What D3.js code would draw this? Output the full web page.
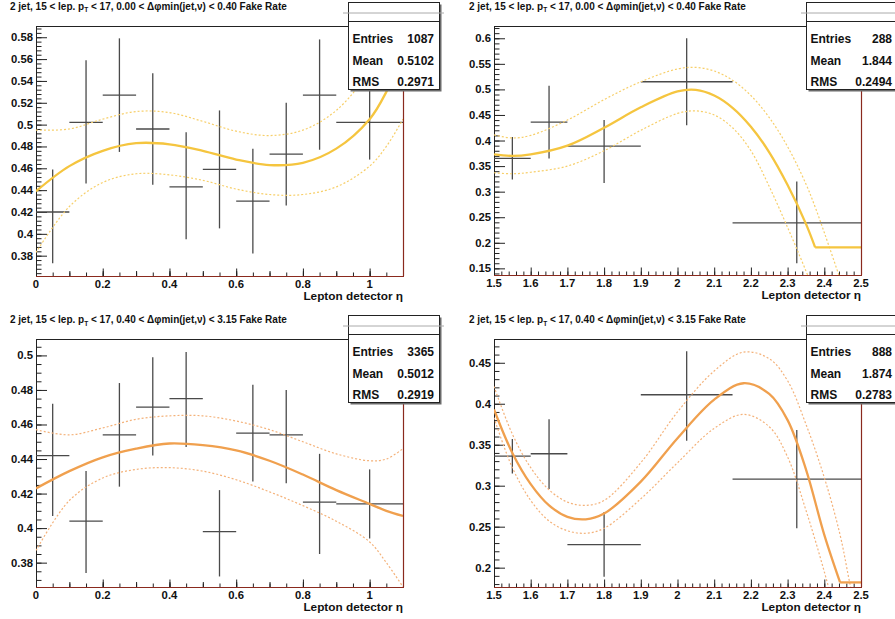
<!DOCTYPE html>
<html><head><meta charset="utf-8">
<script src="https://cdn.jsdelivr.net/npm/d3@7"></script>
<style>
body{margin:0;background:#fff;}
svg{display:block;}
text{font-family:"Liberation Sans",Arial,Helvetica,sans-serif;font-weight:bold;fill:#111;}
</style>
</head><body>
<svg id="c" width="895" height="619"></svg>
<script>
// ---------------- DATA ----------------
const titleCuts = ["0.00 < Δφmin(jet,ν) < 0.40", "0.00 < Δφmin(jet,ν) < 0.40",
                   "0.40 < Δφmin(jet,ν) < 3.15", "0.40 < Δφmin(jet,ν) < 3.15"];
const xAxisTitle = "Lepton detector η";

const statsEntries = [1087, 288, 3365, 888];
const statsMean = ["0.5102", "1.844", "0.5012", "1.874"];
const statsRms = ["0.2971", "0.2494", "0.2919", "0.2783"];

// bin edges (horizontal error bars)
const etaEdgesCentral = [0, 0.1, 0.2, 0.3, 0.4, 0.5, 0.6, 0.7, 0.8, 0.9, 1.1];
const etaEdgesForward = [1.5, 1.6, 1.7, 1.9, 2.15, 2.5];

// panel 1 : low dphi, central eta
const rateLowCen   = [0.420, 0.502, 0.527, 0.496, 0.443, 0.459, 0.430, 0.473, 0.527, 0.502];
const rateLowCenLo = [0.373, 0.446, 0.475, 0.445, 0.395, 0.405, 0.382, 0.426, 0.477, 0.468];
const rateLowCenHi = [0.459, 0.559, 0.579, 0.547, 0.493, 0.513, 0.478, 0.520, 0.578, 0.537];
// panel 2 : low dphi, forward eta
const rateLowFwd   = [0.365, 0.436, 0.389, 0.515, 0.239];
const rateLowFwdLo = [0.324, 0.365, 0.317, 0.430, 0.160];
const rateLowFwdHi = [0.407, 0.507, 0.440, 0.600, 0.320];
// panel 3 : high dphi, central eta
const rateHighCen   = [0.442, 0.404, 0.454, 0.470, 0.475, 0.398, 0.455, 0.454, 0.415, 0.414];
const rateHighCenLo = [0.407, 0.374, 0.424, 0.442, 0.447, 0.372, 0.427, 0.426, 0.385, 0.394];
const rateHighCenHi = [0.472, 0.433, 0.484, 0.499, 0.502, 0.422, 0.483, 0.480, 0.443, 0.434];
// panel 4 : high dphi, forward eta
const rateHighFwd   = [0.336, 0.339, 0.228, 0.411, 0.308];
const rateHighFwdLo = [0.315, 0.296, 0.189, 0.355, 0.248];
const rateHighFwdHi = [0.357, 0.381, 0.268, 0.464, 0.368];

// fit curves (central, upper and lower band)
const fitXCen = [0, 0.1, 0.2, 0.3, 0.4, 0.5, 0.6, 0.7, 0.8, 0.9, 1.0, 1.05, 1.1];
const fitLowCen   = [0.439, 0.462, 0.476, 0.483, 0.482, 0.476, 0.468, 0.463, 0.465, 0.478, 0.505, 0.530, 0.565];
const fitLowCenUp = [0.495, 0.496, 0.505, 0.512, 0.511, 0.503, 0.494, 0.490, 0.495, 0.513, 0.550, 0.585, 0.625];
const fitLowCenDn = [0.383, 0.425, 0.447, 0.455, 0.454, 0.449, 0.441, 0.436, 0.436, 0.443, 0.462, 0.480, 0.505];
const fitHighCen   = [0.423, 0.433, 0.441, 0.446, 0.449, 0.448, 0.445, 0.439, 0.431, 0.422, 0.414, 0.410, 0.407];
const fitHighCenUp = [0.457, 0.454, 0.458, 0.463, 0.465, 0.465, 0.462, 0.457, 0.450, 0.443, 0.439, 0.440, 0.446];
const fitHighCenDn = [0.387, 0.416, 0.429, 0.434, 0.435, 0.433, 0.428, 0.421, 0.413, 0.404, 0.392, 0.380, 0.366];

const fitXFwdLow = [1.5, 1.55, 1.6, 1.7, 1.8, 1.9, 2.0, 2.05, 2.1, 2.15, 2.2, 2.25, 2.3, 2.35, 2.375, 2.4, 2.45, 2.5];
const fitLowFwd   = [0.373, 0.370, 0.373, 0.390, 0.425, 0.465, 0.496, 0.499, 0.488, 0.464, 0.427, 0.377, 0.313, 0.237, 0.191, 0.191, 0.191, 0.191];
const fitLowFwdUp = [0.411, 0.405, 0.410, 0.440, 0.480, 0.515, 0.540, 0.543, 0.536, 0.518, 0.488, 0.445, 0.388, 0.315, 0.270, 0.220, 0.115, 0.010];
const fitLowFwdDn = [0.337, 0.335, 0.338, 0.350, 0.380, 0.420, 0.453, 0.458, 0.450, 0.425, 0.380, 0.310, 0.230, 0.145, 0.100, 0.055, -0.04, -0.14];

const fitXFwdHigh = [1.5, 1.55, 1.6, 1.65, 1.7, 1.75, 1.8, 1.9, 2.0, 2.1, 2.18, 2.25, 2.3, 2.35, 2.4, 2.443, 2.47, 2.5];
const fitHighFwd   = [0.393, 0.340, 0.302, 0.276, 0.262, 0.259, 0.266, 0.305, 0.358, 0.405, 0.425, 0.412, 0.380, 0.320, 0.240, 0.182, 0.182, 0.182];
const fitHighFwdUp = [0.421, 0.363, 0.322, 0.295, 0.280, 0.276, 0.282, 0.328, 0.390, 0.440, 0.463, 0.455, 0.428, 0.375, 0.310, 0.240, 0.180, 0.120];
const fitHighFwdDn = [0.383, 0.322, 0.282, 0.257, 0.245, 0.242, 0.248, 0.284, 0.328, 0.370, 0.387, 0.372, 0.335, 0.270, 0.195, 0.120, 0.050, 0.000];

// axis ticks
const yMajorP1 = [0.38, 0.4, 0.42, 0.44, 0.46, 0.48, 0.5, 0.52, 0.54, 0.56, 0.58];
const yMajorP2 = [0.15, 0.2, 0.25, 0.3, 0.35, 0.4, 0.45, 0.5, 0.55, 0.6];
const yMajorP3 = [0.38, 0.4, 0.42, 0.44, 0.46, 0.48, 0.5];
const yMajorP4 = [0.2, 0.25, 0.3, 0.35, 0.4, 0.45];
const xMajorCen = [0, 0.2, 0.4, 0.6, 0.8, 1];
const xMajorFwd = [1.5, 1.6, 1.7, 1.8, 1.9, 2, 2.1, 2.2, 2.3, 2.4, 2.5];

// ---------------- DRAW ----------------
const svg = d3.select("#c");
const colYellow = "#f5c53f", colYellowBand = "#f7cf6a";
const colOrange = "#f0a04e", colOrangeBand = "#f4b27a";
const frameRed = "#8a2a1e";

const panels = [
  {id: 0, L: 36, R: 403, T: 26, B: 276, xd: [0, 1.1], yd: [0.3614, 0.5903], titleX: 10, titleY: 9.5,
   edges: etaEdgesCentral, val: rateLowCen, lo: rateLowCenLo, hi: rateLowCenHi,
   fx: fitXCen, f: fitLowCen, fu: fitLowCenUp, fd: fitLowCenDn, col: colYellow, band: colYellowBand,
   yMaj: yMajorP1, yMinStep: 0.004, xMaj: xMajorCen, xMinStep: 0.05, xMidStep: 0.1},
  {id: 1, L: 494, R: 861, T: 26, B: 275, xd: [1.5, 2.5], yd: [0.137, 0.624], titleX: 469, titleY: 9.5,
   edges: etaEdgesForward, val: rateLowFwd, lo: rateLowFwdLo, hi: rateLowFwdHi,
   fx: fitXFwdLow, f: fitLowFwd, fu: fitLowFwdUp, fd: fitLowFwdDn, col: colYellow, band: colYellowBand,
   yMaj: yMajorP2, yMinStep: 0.01, xMaj: xMajorFwd, xMinStep: 0.02, xMidStep: null},
  {id: 2, L: 36, R: 403, T: 339, B: 587, xd: [0, 1.1], yd: [0.3659, 0.5095], titleX: 10, titleY: 323,
   edges: etaEdgesCentral, val: rateHighCen, lo: rateHighCenLo, hi: rateHighCenHi,
   fx: fitXCen, f: fitHighCen, fu: fitHighCenUp, fd: fitHighCenDn, col: colOrange, band: colOrangeBand,
   yMaj: yMajorP3, yMinStep: 0.005, xMaj: xMajorCen, xMinStep: 0.05, xMidStep: 0.1},
  {id: 3, L: 494, R: 861, T: 339, B: 587, xd: [1.5, 2.5], yd: [0.1764, 0.479], titleX: 469, titleY: 323,
   edges: etaEdgesForward, val: rateHighFwd, lo: rateHighFwdLo, hi: rateHighFwdHi,
   fx: fitXFwdHigh, f: fitHighFwd, fu: fitHighFwdUp, fd: fitHighFwdDn, col: colOrange, band: colOrangeBand,
   yMaj: yMajorP4, yMinStep: 0.01, xMaj: xMajorFwd, xMinStep: 0.02, xMidStep: null}
];

function fmtTick(v) { return String(+v.toFixed(3)); }

panels.forEach(p => {
  const g = svg.append("g");
  const x = d3.scaleLinear().domain(p.xd).range([p.L, p.R]);
  const y = d3.scaleLinear().domain(p.yd).range([p.B, p.T]);

  const cid = "clip" + p.id;
  svg.append("clipPath").attr("id", cid).append("rect")
    .attr("x", p.L).attr("y", p.T).attr("width", p.R - p.L).attr("height", p.B - p.T);

  // title
  const t = g.append("text").attr("x", p.titleX).attr("y", p.titleY).style("font-size", "10px");
  t.append("tspan").text("2 jet, 15 < lep. p");
  t.append("tspan").attr("dy", 2.5).style("font-size", "6.5px").text("T");
  t.append("tspan").attr("dy", -2.5).text(" < 17, " + titleCuts[p.id] + " Fake Rate");

  // frame top / left
  g.append("line").attr("x1", p.L).attr("x2", p.R).attr("y1", p.T + 0.5).attr("y2", p.T + 0.5).attr("stroke", "#222");
  g.append("line").attr("x1", p.L + 0.5).attr("x2", p.L + 0.5).attr("y1", p.T).attr("y2", p.B).attr("stroke", "#222");

  // y ticks
  const yMin = d3.range(Math.ceil(p.yd[0] / p.yMinStep - 1e-6), Math.floor(p.yd[1] / p.yMinStep + 1e-6) + 1)
    .map(k => k * p.yMinStep);
  const ga = g.append("g").attr("transform", `translate(${p.L},0)`)
    .call(d3.axisRight(y).tickValues(yMin).tickSize(5.5).tickFormat(""));
  ga.select(".domain").remove();
  ga.selectAll("line").attr("stroke", "#222");
  const gb = g.append("g").attr("transform", `translate(${p.L},0)`)
    .call(d3.axisRight(y).tickValues(p.yMaj).tickSize(11).tickFormat(""));
  gb.select(".domain").remove();
  gb.selectAll("line").attr("stroke", "#222");
  g.selectAll(null).data(p.yMaj).enter().append("text")
    .attr("x", p.L - 3).attr("y", d => y(d) + 4).attr("text-anchor", "end")
    .style("font-size", "11.3px").text(fmtTick);

  // x ticks
  const xMin = d3.range(Math.ceil(p.xd[0] / p.xMinStep - 1e-6), Math.floor(p.xd[1] / p.xMinStep + 1e-6) + 1)
    .map(k => k * p.xMinStep);
  const gx1 = g.append("g").attr("transform", `translate(0,${p.B})`)
    .call(d3.axisTop(x).tickValues(xMin).tickSize(3.5).tickFormat(""));
  gx1.select(".domain").remove(); gx1.selectAll("line").attr("stroke", "#222");
  if (p.xMidStep) {
    const xMid = d3.range(0, Math.floor(p.xd[1] / p.xMidStep + 1e-6) + 1).map(k => k * p.xMidStep);
    const gx2 = g.append("g").attr("transform", `translate(0,${p.B})`)
      .call(d3.axisTop(x).tickValues(xMid).tickSize(5).tickFormat(""));
    gx2.select(".domain").remove(); gx2.selectAll("line").attr("stroke", "#222");
  }
  const gx3 = g.append("g").attr("transform", `translate(0,${p.B})`)
    .call(d3.axisTop(x).tickValues(p.xMaj).tickSize(7.5).tickFormat(""));
  gx3.select(".domain").remove(); gx3.selectAll("line").attr("stroke", "#222");
  g.selectAll(null).data(p.xMaj).enter().append("text")
    .attr("x", d => x(d)).attr("y", p.B + 12).attr("text-anchor", "middle")
    .style("font-size", "11.3px").text(fmtTick);
  g.append("text").attr("x", p.R).attr("y", p.B + 24).attr("text-anchor", "end")
    .style("font-size", "11.8px").text(xAxisTitle);

  // error bars
  const pts = p.val.map((v, i) => ({x0: p.edges[i], x1: p.edges[i + 1], xc: (p.edges[i] + p.edges[i + 1]) / 2,
                                    v: v, lo: p.lo[i], hi: p.hi[i]}));
  const eg = g.append("g").attr("clip-path", `url(#${cid})`).attr("stroke", "#4a4a4a").attr("stroke-width", 1.3);
  eg.selectAll(".h").data(pts).enter().append("line")
    .attr("x1", d => x(d.x0)).attr("x2", d => x(d.x1)).attr("y1", d => y(d.v)).attr("y2", d => y(d.v));
  eg.selectAll(".v").data(pts).enter().append("line")
    .attr("x1", d => x(d.xc)).attr("x2", d => x(d.xc)).attr("y1", d => y(d.lo)).attr("y2", d => y(d.hi));

  // fit curves
  const fg = g.append("g").attr("clip-path", `url(#${cid})`).attr("fill", "none");
  const smooth = d3.line().x(d => x(d[0])).y(d => y(d[1])).curve(d3.curveCatmullRom.alpha(0.5));
  const straight = d3.line().x(d => x(d[0])).y(d => y(d[1]));
  [p.fu, p.fd].forEach(arr => {
    fg.append("path").attr("d", smooth(p.fx.map((xx, i) => [xx, arr[i]])))
      .attr("stroke", p.band).attr("stroke-width", 1.2).attr("stroke-dasharray", "2,2");
  });
  // central fit: smooth part, then flat floor (if any) drawn straight
  const cpts = p.fx.map((xx, i) => [xx, p.f[i]]);
  const last = cpts.length - 1;
  let k = last;
  while (k > 0 && cpts[k - 1][1] === cpts[last][1]) k--;
  const d1 = smooth(cpts.slice(0, k + 1));
  fg.append("path").attr("d", d1).attr("stroke", p.col).attr("stroke-width", 2.3).attr("stroke-linejoin", "round");
  if (k < last) {
    fg.append("path").attr("d", straight(cpts.slice(k))).attr("stroke", p.col).attr("stroke-width", 2.3);
  }

  // bottom/right frame edges (dark red)
  g.append("line").attr("x1", p.L).attr("x2", p.R + 1).attr("y1", p.B + 0.5).attr("y2", p.B + 0.5).attr("stroke", frameRed).attr("stroke-width", 1.2);
  g.append("line").attr("x1", p.R + 0.5).attr("x2", p.R + 0.5).attr("y1", p.T).attr("y2", p.B).attr("stroke", frameRed).attr("stroke-width", 1.2);

  // stats box
  const bx = p.R - 55, by = p.T - 24, bw = 91, bh = 87;
  const sb = svg.append("g");
  sb.append("rect").attr("x", bx + 2.5).attr("y", by + 2.5).attr("width", bw).attr("height", bh).attr("fill", "#6a6a6a");
  sb.append("rect").attr("x", bx + 0.5).attr("y", by + 0.5).attr("width", bw).attr("height", bh)
    .attr("fill", "#fff").attr("stroke", "#222").attr("stroke-width", 1);
  sb.append("line").attr("x1", bx - 5).attr("x2", bx + bw + 5).attr("y1", by + 11).attr("y2", by + 11)
    .attr("stroke", "#aaa").attr("stroke-width", 1);
  sb.append("line").attr("x1", bx).attr("x2", bx + bw).attr("y1", by + 19.5).attr("y2", by + 19.5)
    .attr("stroke", "#222").attr("stroke-width", 1);
  const rows = [["Entries", String(statsEntries[p.id])], ["Mean", statsMean[p.id]], ["RMS", statsRms[p.id]]];
  rows.forEach((r, i) => {
    sb.append("text").attr("x", bx + 4.5).attr("y", by + 41 + i * 21.5).style("font-size", "12px").text(r[0]);
    sb.append("text").attr("x", bx + 86).attr("y", by + 41 + i * 21.5).attr("text-anchor", "end")
      .style("font-size", "12px").text(r[1]);
  });
});
</script>
</body></html>
